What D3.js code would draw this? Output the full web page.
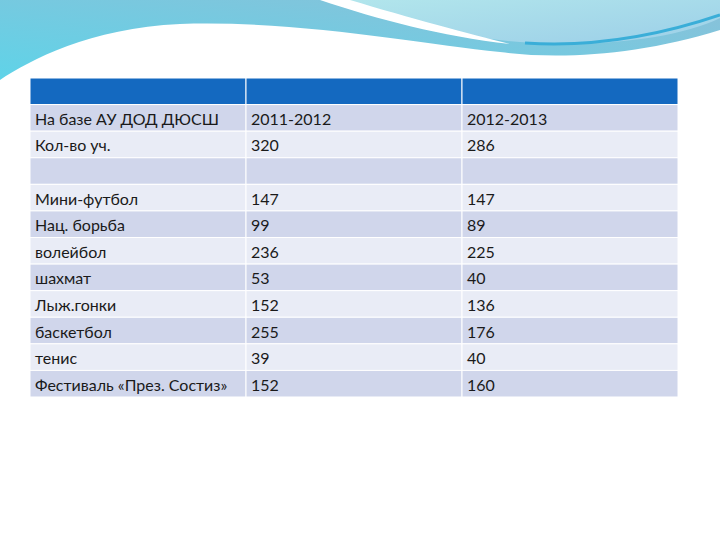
<!DOCTYPE html>
<html><head><meta charset="utf-8">
<script src="https://cdn.jsdelivr.net/npm/d3@7"></script>
<style>body{margin:0;background:#fff}</style>
</head><body>
<svg width="720" height="540"></svg>
<script>
const labels = ["На базе АУ ДОД ДЮСШ", "Кол-во уч.", "", "Мини-футбол", "Нац. борьба", "волейбол", "шахмат", "Лыж.гонки", "баскетбол", "тенис", "Фестиваль «През. Состиз»"];
const col2011 = ["2011-2012", "320", "", "147", "99", "236", "53", "152", "255", "39", "152"];
const col2013 = ["2012-2013", "286", "", "147", "89", "225", "40", "136", "176", "40", "160"];

const svg = d3.select("svg");
const defs = svg.append("defs");
const g1 = defs.append("linearGradient").attr("id", "gl").attr("x1", 0).attr("y1", 1).attr("x2", 1).attr("y2", 0);
g1.append("stop").attr("offset", 0).attr("stop-color", "#5fd3e8");
g1.append("stop").attr("offset", 1).attr("stop-color", "#8cc0d8");
const g2 = defs.append("linearGradient").attr("id", "gr").attr("x1", 0).attr("y1", 0).attr("x2", 1).attr("y2", 1);
g2.append("stop").attr("offset", 0).attr("stop-color", "#b2e6ec");
g2.append("stop").attr("offset", 1).attr("stop-color", "#9ccfe8");

// decorative header waves
svg.append("path").attr("fill", "url(#gl)")
  .attr("d", "M0,0 L720,0 L720,30 C640,55 560,60 500,52 C420,44 300,20 180,24 C90,28 30,60 0,80 Z");
svg.append("path").attr("fill", "url(#gr)")
  .attr("d", "M330,0 L720,0 L720,18 C680,38 600,48 520,42 C460,38 400,20 330,0 Z");
svg.append("path").attr("fill", "#ffffff")
  .attr("d", "M320,0 C380,20 440,36 510,44 C470,34 410,18 350,0 Z");
svg.append("path").attr("fill", "none").attr("stroke", "#3aaed8").attr("stroke-width", 3)
  .attr("d", "M525,43 C600,48 670,32 720,15");

const x = d3.scaleBand().domain([0, 1, 2]).range([30, 678]);
const rows = d3.range(labels.length + 1);
const y = d3.scaleBand().domain(rows).range([78, 397]);

const data = rows.map(i => i === 0 ? ["", "", ""] : [labels[i - 1], col2011[i - 1], col2013[i - 1]]);
const gr = svg.selectAll("g.row").data(data).join("g").attr("class", "row")
  .attr("transform", (d, i) => `translate(0,${y(i)})`);
gr.each(function (d, i) {
  const row = d3.select(this);
  const fill = i === 0 ? "#1469c0" : (i % 2 === 1 ? "#d0d6eb" : "#e9ecf6");
  d.forEach((t, j) => {
    row.append("rect").attr("x", x(j)).attr("width", x.bandwidth()).attr("height", y.bandwidth())
      .attr("fill", fill).attr("stroke", "#ffffff").attr("stroke-width", 1);
    row.append("text").attr("x", x(j) + 5).attr("y", y.bandwidth() / 2 + 7)
      .attr("font-family", "Lato, 'Open Sans', sans-serif").attr("font-size", 16).attr("fill", "#1a1a1a")
      .text(t);
  });
});
</script>
</body></html>
